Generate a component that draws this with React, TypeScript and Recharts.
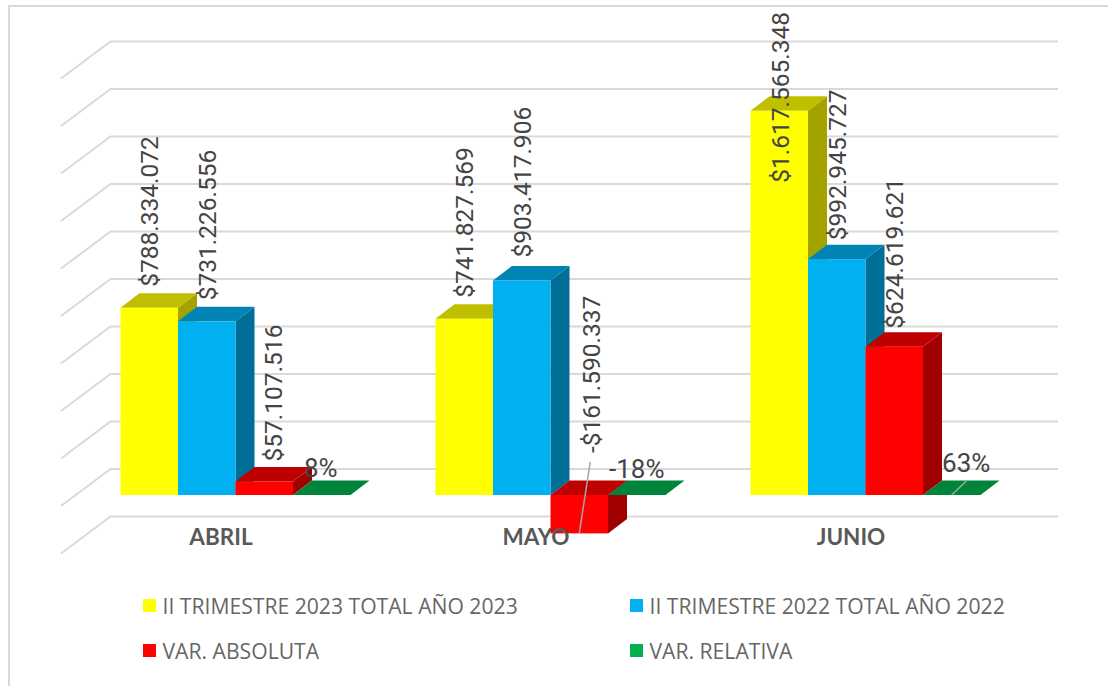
import React from 'react';
import { BarChart, Bar, XAxis, YAxis, CartesianGrid, Legend, LabelList } from 'recharts';

const months = ['ABRIL', 'MAYO', 'JUNIO'];
const trimestre2023 = [788334072, 741827569, 1617565348];
const trimestre2022 = [731226556, 903417906, 992945727];
const varAbsoluta = [57107516, -161590337, 624619621];
const varRelativa = [0.08, -0.18, 0.63];
const yTicks = [-200000000, 0, 200000000, 400000000, 600000000, 800000000, 1000000000, 1200000000, 1400000000, 1600000000, 1800000000];

const data = months.map((month, i) => ({
  month,
  t2023: trimestre2023[i],
  t2022: trimestre2022[i],
  abs: varAbsoluta[i],
  rel: varRelativa[i],
}));

// fake 3D depth of the bars
const DX = 19;
const DY = 14.5;

const formatMoney = (v: number) => {
  const s = Math.abs(v).toString().replace(/\B(?=(\d{3})+(?!\d))/g, '.');
  return (v < 0 ? '-$' : '$') + s;
};
const formatPct = (v: number) => Math.round(v * 100) + '%';

const Bar3D = (top: string, side: string) => (props: any) => {
  const { x, y, width, height, fill } = props;
  const y0 = Math.min(y, y + height);
  const y1 = Math.max(y, y + height);
  const r = x + width;
  return (
    <g>
      <path d={`M${r},${y0} L${r + DX},${y0 - DY} L${r + DX},${y1 - DY} L${r},${y1} Z`} fill={side} />
      <path d={`M${x},${y0} L${x + DX},${y0 - DY} L${r + DX},${y0 - DY} L${r},${y0} Z`} fill={top} />
      {y1 > y0 && <rect x={x} y={y0} width={width} height={y1 - y0} fill={fill} />}
    </g>
  );
};

// back wall line plus the diagonal going to the front of the floor
const WallLine = (props: any) => {
  const { x1, x2, y1, index } = props;
  return (
    <path
      key={index}
      d={`M${x1 - 16.5},${y1 + 11} L${x1 + 33},${y1 - 26} L${x2 + 35.5},${y1 - 26}`}
      fill="none"
      stroke="#D9D9D9"
      strokeWidth={2}
    />
  );
};

const labelFont = { fontFamily: 'Roboto', fontSize: 24.5, fill: '#444444' };

// manual label shifts, [dx from bar centre, gap above the bar top]
const VerticalLabel = (shifts: number[][]) => (props: any) => {
  const { x, y, width, height, value, index } = props;
  const top = Math.min(y, y + height);
  const bottom = Math.max(y, y + height);
  const v = Number(value);
  const cx = x + width / 2 + shifts[index][0];
  const cy = top - shifts[index][1];
  return (
    <g>
      {v < 0 && (
        <path d={`M${cx - 1},${cy + 9} L${x + width / 2},${bottom}`} stroke="#A6A6A6" strokeWidth={1.5} fill="none" />
      )}
      <text
        x={cx}
        y={cy}
        transform={`rotate(-90 ${cx} ${cy})`}
        dominantBaseline="central"
        {...labelFont}
      >
        {formatMoney(v)}
      </text>
    </g>
  );
};

const pctShifts = [[-1, -18], [0, -17], [14.5, -23]];

const PctLabel = (props: any) => {
  const { x, y, width, value, index } = props;
  const cx = x + width / 2;
  const shift = pctShifts[index];
  return (
    <g>
      {index === 2 && (
        <path d={`M${cx + 14.5},${y - 14} L${cx},${y}`} stroke="#A6A6A6" strokeWidth={1.5} fill="none" />
      )}
      <text x={cx + shift[0]} y={y + shift[1]} textAnchor="middle" {...labelFont} fontSize={26}>
        {formatPct(Number(value))}
      </text>
    </g>
  );
};

const MonthTick = (props: any) => {
  const { x, y, payload } = props;
  return (
    <text x={x - 14} y={y - 6} textAnchor="middle" fontFamily="Lato" fontWeight={700} fontSize={22.5} fill="#595959">
      {payload.value}
    </text>
  );
};

const legendSpots = [
  { left: 143, top: 605 },
  { left: 630, top: 605 },
  { left: 143, top: 650 },
  { left: 630, top: 650 },
];

const LegendBox = (props: any) => (
  <div>
    {props.payload.map((item: any, i: number) => (
      <div key={item.value} style={{ position: 'absolute', left: legendSpots[i].left, top: legendSpots[i].top - 7 }}>
        <div style={{ position: 'absolute', left: 0, top: 1, width: 13, height: 13, background: item.color }} />
        <div
          style={{
            position: 'absolute',
            left: 19.5,
            top: -6,
            whiteSpace: 'nowrap',
            fontFamily: 'Open Sans',
            fontSize: 21.15,
            lineHeight: '27px',
            color: '#666666',
          }}
        >
          {item.value}
        </div>
      </div>
    ))}
  </div>
);

export default function App() {
  return (
    <div
      style={{
        position: 'absolute',
        left: 0,
        top: 0,
        width: 1108,
        height: 686,
        background: '#fff',
        overflow: 'hidden',
      }}
    >
      <div
        style={{
          position: 'absolute',
          left: 8,
          top: 5,
          width: 1200,
          height: 800,
          border: '2px solid #D9D9D9',
        }}
      />
      <BarChart
        width={1108}
        height={686}
        data={data}
        margin={{ top: 67.5, right: 85.5, bottom: 113.5, left: 77.5 }}
        barSize={57.5}
        barGap={0}
      >
        <CartesianGrid vertical={false} horizontal={WallLine} horizontalValues={yTicks} />
        <XAxis dataKey="month" axisLine={false} tickLine={false} tick={MonthTick} height={30} interval={0} />
        <YAxis hide domain={[-200000000, 1800000000]} ticks={yTicks} />
        <Legend
          verticalAlign="middle"
          align="center"
          itemSorter={null}
          content={LegendBox}
          wrapperStyle={{ left: 0, top: 0, width: 1108, height: 686 }}
        />
        <Bar
          dataKey="t2023"
          name="II TRIMESTRE 2023 TOTAL AÑO 2023"
          fill="#FFFF00"
          shape={Bar3D('#BFBF00', '#A3A300')}
          isAnimationActive={false}
        >
          <LabelList dataKey="t2023" content={VerticalLabel([[0.5, 21], [0.5, 21], [1.5, -72]])} />
        </Bar>
        <Bar
          dataKey="t2022"
          name="II TRIMESTRE 2022 TOTAL AÑO 2022"
          fill="#00B0F0"
          shape={Bar3D('#0084B4', '#006F97')}
          isAnimationActive={false}
        >
          <LabelList dataKey="t2022" content={VerticalLabel([[0.5, 21], [0.5, 23], [0.5, 19]])} />
        </Bar>
        <Bar
          dataKey="abs"
          name="VAR. ABSOLUTA"
          fill="#FF0000"
          shape={Bar3D('#BF0000', '#A00000')}
          isAnimationActive={false}
        >
          <LabelList dataKey="abs" content={VerticalLabel([[9.5, 20], [12, 42], [0.5, 18]])} />
        </Bar>
        <Bar
          dataKey="rel"
          name="VAR. RELATIVA"
          fill="#00B050"
          shape={Bar3D('#00843B', '#00843B')}
          isAnimationActive={false}
        >
          <LabelList dataKey="rel" content={PctLabel} />
        </Bar>
      </BarChart>
    </div>
  );
}
